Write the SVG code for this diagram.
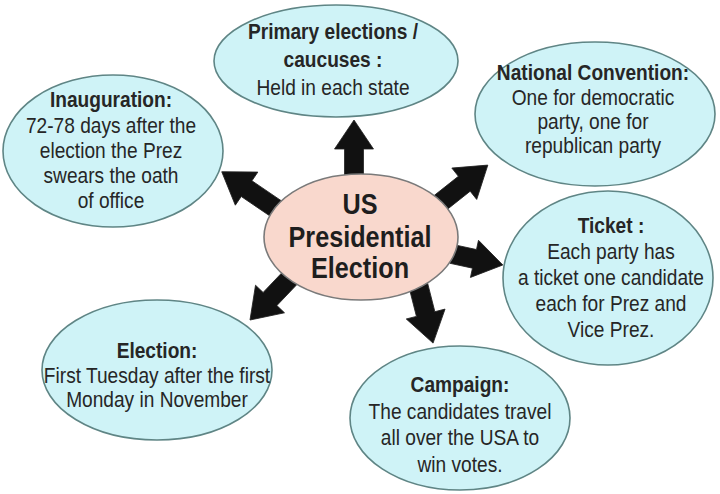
<svg xmlns="http://www.w3.org/2000/svg" width="720" height="494" viewBox="0 0 720 494">
<style>
.bub{fill:#cff3f7;stroke:#5f8585;stroke-width:1.6}
.core{fill:#f9d8cd;stroke:#7a7a7a;stroke-width:1.6}
.t{font-family:"Liberation Sans",Arial,sans-serif;font-size:22.5px;fill:#262626;text-anchor:middle}
.b{font-weight:bold}
.c{font-family:"Liberation Sans",Arial,sans-serif;font-size:29px;font-weight:bold;fill:#1e1e1e;text-anchor:middle}
.arr{fill:#111;stroke:#222;stroke-width:0.8;stroke-linejoin:miter}
</style>
<rect width="720" height="494" fill="#ffffff"/>
<g id="connectors">
<path class="arr" transform="translate(354,178) rotate(-90)" d="M0,-9.5 L29,-9.5 L29,-19.5 L58,0 L29,19.5 L29,9.5 L0,9.5 Z"/>
<path class="arr" transform="translate(278,210) rotate(-145.8)" d="M0,-9.5 L38,-9.5 L38,-20 L68,0 L38,20 L38,9.5 L0,9.5 Z"/>
<path class="arr" transform="translate(440,203) rotate(-38.4)" d="M0,-9.5 L31,-9.5 L31,-20 L61,0 L31,20 L31,9.5 L0,9.5 Z"/>
<path class="arr" transform="translate(452,254) rotate(12.2)" d="M0,-9.5 L23,-9.5 L23,-19 L52,0 L23,19 L23,9.5 L0,9.5 Z"/>
<path class="arr" transform="translate(418,284) rotate(75.7)" d="M0,-9.5 L31,-9.5 L31,-20 L61,0 L31,20 L31,9.5 L0,9.5 Z"/>
<path class="arr" transform="translate(290,278) rotate(133.6)" d="M0,-9.5 L29,-9.5 L29,-20 L58,0 L29,20 L29,9.5 L0,9.5 Z"/>
</g>
<g id="center">
<ellipse class="core" cx="361" cy="237" rx="97" ry="63"/>
<text class="c" transform="translate(360,0) scale(0.87,1)"><tspan x="0" y="214">US</tspan><tspan x="0" y="247">Presidential</tspan><tspan x="0" y="278">Election</tspan></text>
</g>
<g id="primary">
<ellipse class="bub" cx="336" cy="61" rx="122" ry="56"/>
<text class="t" transform="translate(333,0) scale(0.85,1)"><tspan class="b" x="0" y="39">Primary elections /</tspan><tspan class="b" x="0" y="67">caucuses :</tspan><tspan x="0" y="95">Held in each state</tspan></text>
</g>
<g id="inauguration">
<ellipse class="bub" cx="113" cy="151" rx="110" ry="76"/>
<text class="t" transform="translate(111,0) scale(0.85,1)"><tspan class="b" x="0" y="107">Inauguration:</tspan><tspan x="0" y="133">72-78 days after the</tspan><tspan x="0" y="158">election the Prez</tspan><tspan x="0" y="183">swears the oath</tspan><tspan x="0" y="208">of office</tspan></text>
</g>
<g id="convention">
<ellipse class="bub" cx="595" cy="114" rx="120" ry="72"/>
<text class="t" transform="translate(593,0) scale(0.85,1)"><tspan class="b" x="0" y="80">National Convention:</tspan><tspan x="0" y="105">One for democratic</tspan><tspan x="0" y="129">party, one for</tspan><tspan x="0" y="153">republican party</tspan></text>
</g>
<g id="ticket">
<ellipse class="bub" cx="608" cy="278" rx="105" ry="87"/>
<text class="t" transform="translate(611,0) scale(0.85,1)"><tspan class="b" x="0" y="233">Ticket :</tspan><tspan x="0" y="259">Each party has</tspan><tspan x="0" y="285">a ticket one candidate</tspan><tspan x="0" y="311">each for Prez and</tspan><tspan x="0" y="337">Vice Prez.</tspan></text>
</g>
<g id="election">
<ellipse class="bub" cx="157" cy="370" rx="115" ry="70"/>
<text class="t" transform="translate(157,0) scale(0.85,1)"><tspan class="b" x="0" y="358">Election:</tspan><tspan x="0" y="383">First Tuesday after the first</tspan><tspan x="0" y="407">Monday in November</tspan></text>
</g>
<g id="campaign">
<ellipse class="bub" cx="460" cy="418" rx="110" ry="72"/>
<text class="t" transform="translate(460,0) scale(0.85,1)"><tspan class="b" x="0" y="392">Campaign:</tspan><tspan x="0" y="419">The candidates travel</tspan><tspan x="0" y="445">all over the USA to</tspan><tspan x="0" y="472">win votes.</tspan></text>
</g>
</svg>
